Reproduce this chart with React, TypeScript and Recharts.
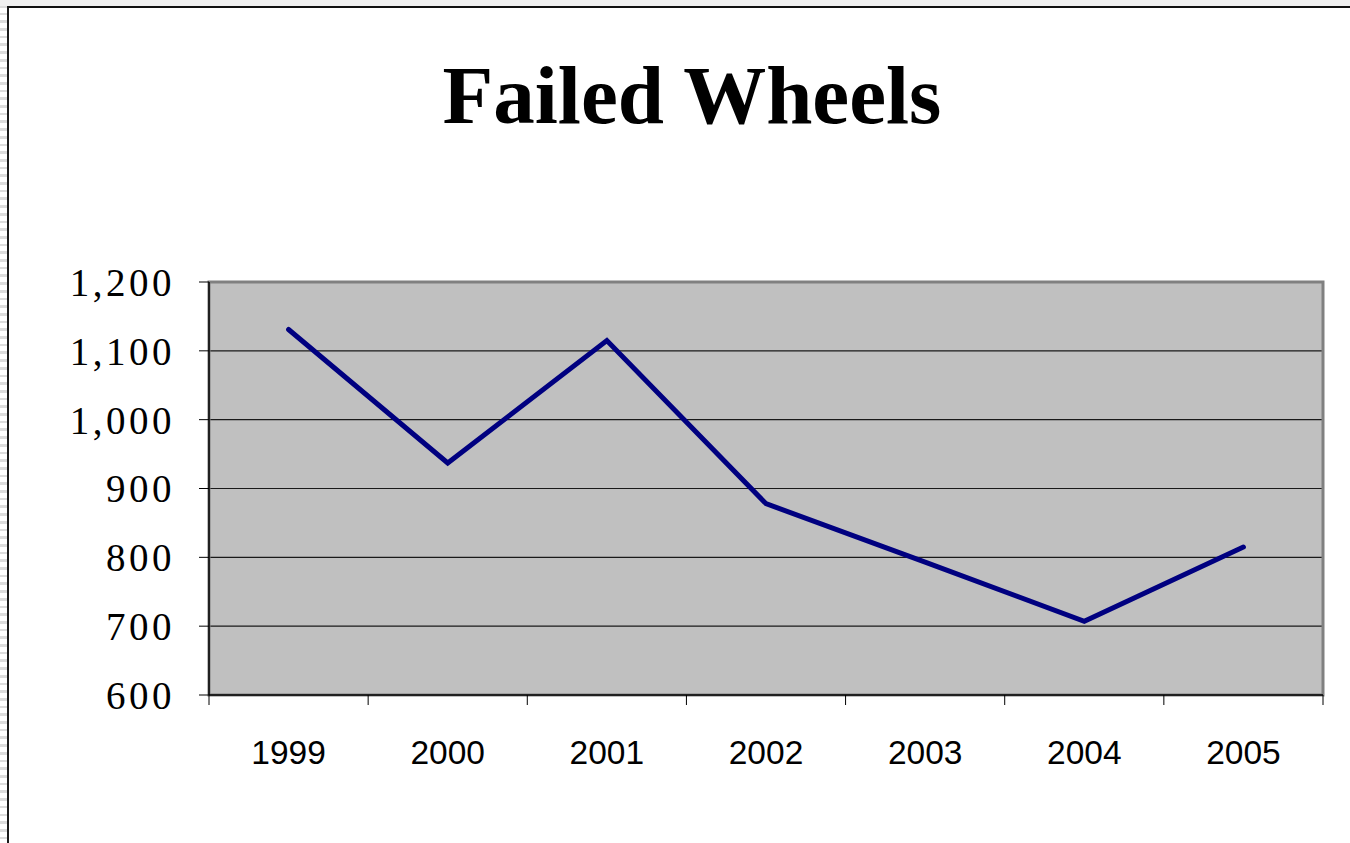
import React from 'react';
import { LineChart, Line, XAxis, YAxis, CartesianGrid, ReferenceArea } from 'recharts';

const TITLE = 'Failed Wheels';
const years = ['1999', '2000', '2001', '2002', '2003', '2004', '2005'];
const failedWheels = [1131, 937, 1115, 878, 793, 707, 815];
const yTicks = [600, 700, 800, 900, 1000, 1100, 1200];

const rows = years.map((year, i) => ({ year, pos: i + 0.5, value: failedWheels[i] }));
const bandEdges = years.map((_, i) => i).concat([years.length]);
const bandCenters = years.map((_, i) => i + 0.5);

const fmtThousands = (v: number) => v.toLocaleString('en-US');
const EmptyTick = () => <g />;

export default function App() {
  return (
    <div style={{ position: 'fixed', left: 0, top: 0, width: 1350, height: 843, background: '#fff', overflow: 'hidden' }}>
      <div
        style={{
          position: 'absolute', left: 0, top: 0, width: 7, height: 843,
          background: 'repeating-linear-gradient(to bottom, #ffffff 0px, #ffffff 5px, #dcdcdc 5px, #dcdcdc 7.7px)',
        }}
      />
      <div style={{ position: 'absolute', left: 0, top: 0, width: 1350, height: 6, background: '#f0f0f0' }} />
      <div
        style={{
          position: 'absolute', left: 7, top: 6, width: 1343, height: 837,
          borderLeft: '2px solid #1a1a1a', borderTop: '2px solid #111', boxSizing: 'border-box',
        }}
      />
      <div
        style={{
          position: 'absolute', left: 0, top: 53.5, width: 1384, textAlign: 'center',
          fontFamily: '"Liberation Serif", "Times New Roman", serif', fontWeight: 'bold',
          fontSize: 83, lineHeight: '83px', color: '#000', whiteSpace: 'nowrap',
        }}
      >
        {TITLE}
      </div>
      <div style={{ position: 'absolute', left: 0, top: 0 }}>
        <LineChart width={1350} height={843} data={rows} margin={{ top: 282, right: 27, bottom: 0, left: 0 }}>
          <CartesianGrid
            fill="#c0c0c0"
            vertical={false}
            stroke="#1a1a1a"
            strokeWidth={1.2}
            xAxisId="bounds"
            horizontalValues={yTicks}
          />
          <ReferenceArea
            xAxisId="bounds"
            x1={0}
            x2={7}
            y1={600}
            y2={1200}
            fill="none"
            stroke="#808080"
            strokeWidth={3}
            ifOverflow="visible"
          />
          <XAxis
            xAxisId="bounds"
            dataKey="pos"
            type="number"
            domain={[0, 7]}
            ticks={bandEdges}
            tick={<EmptyTick />}
            tickSize={10}
            height={12}
            interval={0}
            axisLine={{ stroke: '#000', strokeWidth: 1.5 }}
            tickLine={{ stroke: '#000', strokeWidth: 1 }}
            allowDataOverflow
          />
          <XAxis
            xAxisId="cat"
            dataKey="pos"
            type="number"
            domain={[0, 7]}
            ticks={bandCenters}
            tickFormatter={(v: number) => years[Math.round(v - 0.5)] ?? ''}
            axisLine={false}
            tickLine={false}
            tickSize={0}
            tickMargin={33}
            height={136}
            interval={0}
            tick={{ fill: '#000', fontSize: 33.5, fontFamily: '"Liberation Sans", Arial, sans-serif' }}
            allowDataOverflow
          />
          <YAxis
            type="number"
            domain={[600, 1200]}
            ticks={yTicks}
            interval={0}
            width={209}
            tickSize={10}
            tickMargin={24}
            tickFormatter={fmtThousands}
            axisLine={{ stroke: '#000', strokeWidth: 1.5 }}
            tickLine={{ stroke: '#000', strokeWidth: 1 }}
            tick={{ fill: '#000', fontSize: 39, fontFamily: '"Liberation Serif", "Times New Roman", serif', letterSpacing: 3.5 }}
            allowDataOverflow
          />
          <Line
            xAxisId="cat"
            type="linear"
            dataKey="value"
            stroke="#000080"
            strokeWidth={5}
            strokeLinecap="round"
            dot={false}
            activeDot={false}
            isAnimationActive={false}
          />
        </LineChart>
      </div>
    </div>
  );
}
